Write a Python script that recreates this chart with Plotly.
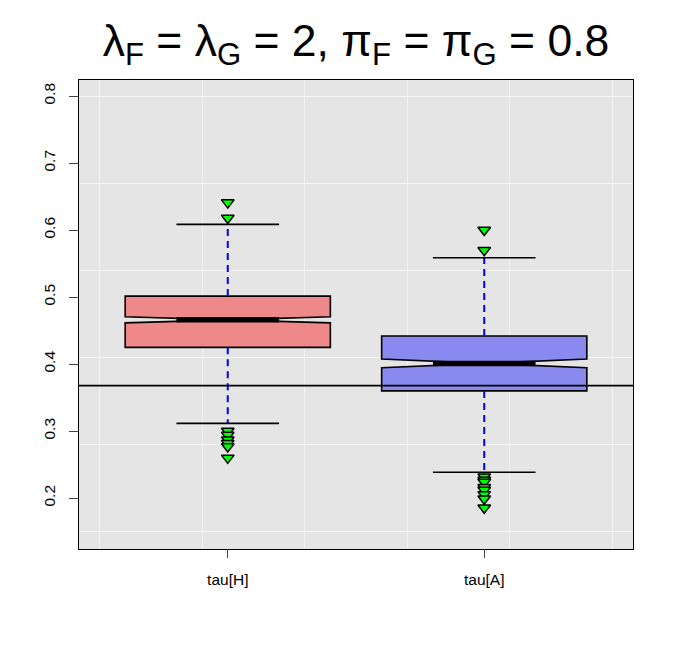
import plotly.graph_objects as go

# ---- data ----
categories = ["tau[H]", "tau[A]"]
positions = [1, 2]
q1 = [0.425, 0.360]
medians = [0.466, 0.401]
q3 = [0.5015, 0.442]
lower_whisker = [0.3115, 0.2385]
upper_whisker = [0.6085, 0.5587]
notch_span = [0.0045, 0.0065]
outliers_H = [0.641, 0.618, 0.300, 0.294, 0.287, 0.282, 0.277, 0.260]
outliers_A = [0.600, 0.570, 0.232, 0.227, 0.224, 0.216, 0.212, 0.2055, 0.199, 0.1855]
outliers = [outliers_H, outliers_A]
fill_colors = ["#EF8989", "#8989EF"]
ref_line = 0.3679
y_tick_vals = [0.2, 0.3, 0.4, 0.5, 0.6, 0.7, 0.8]
x_grid_vals = [0.5, 0.9, 1.3, 1.7, 2.1, 2.5]
y_grid_vals = [0.15, 0.28, 0.41, 0.54, 0.67, 0.80]

# ---- style ----
box_width = 0.8
half_cap = 0.2
font_family = "Liberation Sans, Arial, sans-serif"

fig = go.Figure()

for i, pos in enumerate(positions):
    fig.add_trace(go.Box(
        x=[pos], q1=[q1[i]], median=[medians[i]], q3=[q3[i]],
        lowerfence=[q1[i]], upperfence=[q3[i]],
        notched=True, notchspan=[notch_span[i]], notchwidth=0.5,
        width=box_width, whiskerwidth=0, boxpoints=False,
        fillcolor=fill_colors[i], line=dict(color="black", width=1.6),
        hoverinfo="skip", showlegend=False,
    ))

for i, pos in enumerate(positions):
    # dashed whiskers
    fig.add_trace(go.Scatter(
        x=[pos, pos, None, pos, pos],
        y=[q3[i], upper_whisker[i], None, q1[i], lower_whisker[i]],
        mode="lines", line=dict(color="#0000FF", width=2, dash="7px,5px"),
        hoverinfo="skip", showlegend=False,
    ))
    # caps
    fig.add_trace(go.Scatter(
        x=[pos - half_cap, pos + half_cap, None, pos - half_cap, pos + half_cap],
        y=[upper_whisker[i], upper_whisker[i], None, lower_whisker[i], lower_whisker[i]],
        mode="lines", line=dict(color="black", width=1.6),
        hoverinfo="skip", showlegend=False,
    ))
    # thick median
    fig.add_trace(go.Scatter(
        x=[pos - half_cap, pos + half_cap], y=[medians[i], medians[i]],
        mode="lines", line=dict(color="black", width=5.5),
        hoverinfo="skip", showlegend=False,
    ))
    # outliers
    fig.add_trace(go.Scatter(
        x=[pos] * len(outliers[i]), y=outliers[i], mode="markers",
        marker=dict(symbol="triangle-down", size=11, color="#00FF00",
                    line=dict(color="black", width=1.5)),
        hoverinfo="skip", showlegend=False,
    ))

fig.add_hline(y=ref_line, line_color="black", line_width=1.6)

fig.update_layout(
    width=674, height=648,
    margin=dict(l=71, r=49, t=72, b=107),
    paper_bgcolor="white", plot_bgcolor="#E5E5E5",
    font=dict(family=font_family, color="black"),
    title=dict(
        text="λ<sub>F</sub> = λ<sub>G</sub> = 2, π<sub>F</sub> = π<sub>G</sub> = 0.8",
        x=0.5, xref="paper", xanchor="center",
        y=1 - 32 / 648, yref="container", yanchor="middle",
        font=dict(size=44.5, family=font_family, color="black"),
    ),
    xaxis=dict(
        range=[0.42, 2.58], tickmode="array", tickvals=positions, ticktext=categories,
        ticks="outside", ticklen=8, tickcolor="#444", showgrid=False, zeroline=False,
        showline=True, mirror=True, linecolor="black", linewidth=1.2,
        tickfont=dict(size=15.5), ticklabelstandoff=8,
        minor=dict(tickmode="array", tickvals=x_grid_vals, showgrid=True,
                   gridcolor="#F4F4F4", gridwidth=1, ticks=""),
    ),
    yaxis=dict(
        range=[0.124, 0.824], tickmode="array", tickvals=y_tick_vals,
        ticks="outside", ticklen=9, tickcolor="#444", showgrid=False, zeroline=False,
        showline=True, mirror=True, linecolor="black", linewidth=1.2,
        tickangle=-90, tickfont=dict(size=15.5), ticklabelstandoff=8,
        minor=dict(tickmode="array", tickvals=y_grid_vals, showgrid=True,
                   gridcolor="#F4F4F4", gridwidth=1, ticks=""),
    ),
)

fig.write_html("out.html")
